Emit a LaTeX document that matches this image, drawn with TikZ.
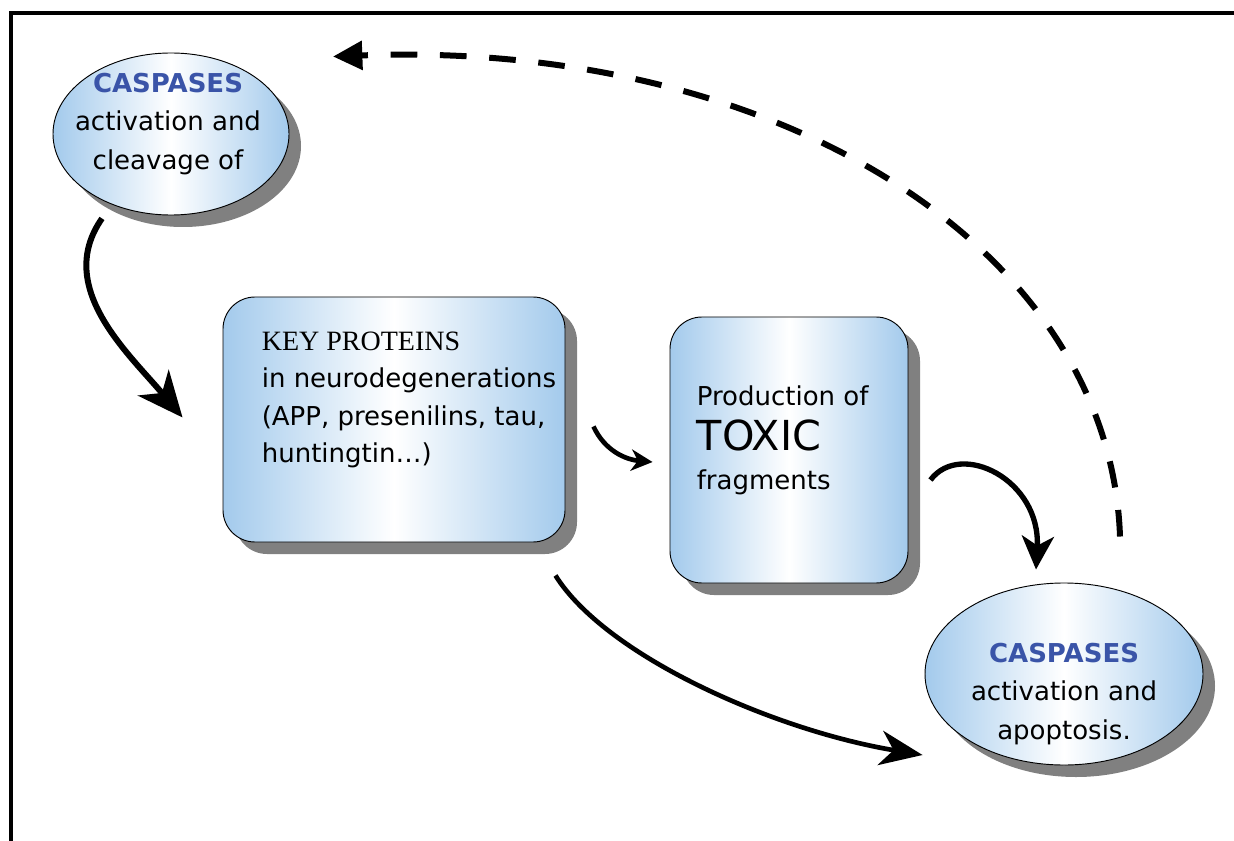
\documentclass[tikz,border=0pt]{standalone}
\usepackage{fontspec}
\setmainfont{DejaVu Sans}
\newfontfamily\timesface{Liberation Serif}
\usetikzlibrary{
	shapes.geometric,
	shadows,
	arrows.meta
}
\definecolor{paleblue}{RGB}{163,202,236}
\definecolor{casptext}{RGB}{58,84,168}
\definecolor{shadowgray}{RGB}{128,128,128}
\tikzset{
	shaded/.style={draw=black,line width=0.7pt,left color=paleblue,right color=paleblue,middle color=white,
		drop shadow={shadow xshift=9pt,shadow yshift=-9pt,fill=shadowgray,opacity=1}},
	bubble/.style={shaded,ellipse,inner sep=0pt},
	panel/.style={shaded,rectangle,rounded corners=24pt,inner sep=0pt},
	comic/.style={inner sep=0pt,font=\fontsize{19.5}{28}\selectfont},
	bigarrow/.style={line width=4.5pt,-{Stealth[length=34pt,width=30pt,inset=10pt]}},
	midarrow/.style={line width=4pt,-{Stealth[length=25pt,width=24pt,inset=7pt]}},
	smallarrow/.style={line width=3.5pt,-{Stealth[length=16pt,width=16pt,inset=5pt]}},
	longarrow/.style={line width=3.5pt,-{Stealth[length=32pt,width=26pt,inset=10pt]}},
	dasharrow/.style={line width=4.5pt,dash pattern=on 20pt off 17pt,-{Triangle[length=22pt,width=21pt]}}
}
\newcommand{\casp}{{\bfseries\color{casptext}CASPASES}}

\begin{document}
\begin{tikzpicture}[x=0.75pt,y=-0.75pt]
	\useasboundingbox (0,0) rectangle (1234,841);
	\draw[line width=3pt] (11,841) -- (11,13) -- (1234,13);

	\node[bubble,minimum width=177pt,minimum height=121.5pt]   (caspA)   at (171,134) {};
	\node[panel,minimum width=256.5pt,minimum height=183.75pt] (keyprot) at (394,419.5) {};
	\node[panel,minimum width=178.5pt,minimum height=199.5pt]  (toxic)   at (789,450) {};
	\node[bubble,minimum width=208.5pt,minimum height=136.5pt] (caspB)   at (1064,674) {};

	\node[comic,align=center,anchor=north,font=\fontsize{19.5}{29}\selectfont] (caspAtxt)
		at ([shift={(-3,20)}]caspA.north) {\casp\\activation and\\cleavage of};
	\node[comic,align=left,anchor=north west] (keytxt)
		at ([shift={(39,35)}]keyprot.north west)
		{{\timesface\fontsize{21}{28}\selectfont KEY PROTEINS}\\in neurodegenerations\\(APP, presenilins, tau,\\huntingtin…)};
	\node[comic,align=left,anchor=north west] (toxictxt)
		at ([shift={(27,69)}]toxic.north west)
		{Production of\\[6pt]{\fontsize{31}{31}\selectfont TOXIC}\\[1pt]fragments};
	\node[comic,align=center,anchor=north,font=\fontsize{19.5}{29}\selectfont] (caspBtxt)
		at ([shift={(0,60)}]caspB.north) {\casp\\activation and\\apoptosis.};

	\draw[bigarrow] ([shift={(-69,3)}]caspA.south) to[out=235,in=130] ([shift={(-40,-2)}]keyprot.west);
	\draw[smallarrow] ([shift={(28,7)}]keyprot.east) to[out=-65,in=175] ([shift={(-17,12)}]toxic.west);
	\draw[midarrow] ([shift={(22,30)}]toxic.east) .. controls +(30,-40) and +(5,-90) .. ([shift={(-28,-13)}]caspB.north);
	\draw[longarrow] ([shift={(-10,33)}]keyprot.south east) .. controls +(50,80) and +(-150,-25) .. ([shift={(-2,81)}]caspB.west);
	\draw[dasharrow] ([shift={(56,-46)}]caspB.north) .. controls +(-10,-287) and +(447,-17) .. ([shift={(162,4)}]caspA.north);
\end{tikzpicture}
\end{document}
